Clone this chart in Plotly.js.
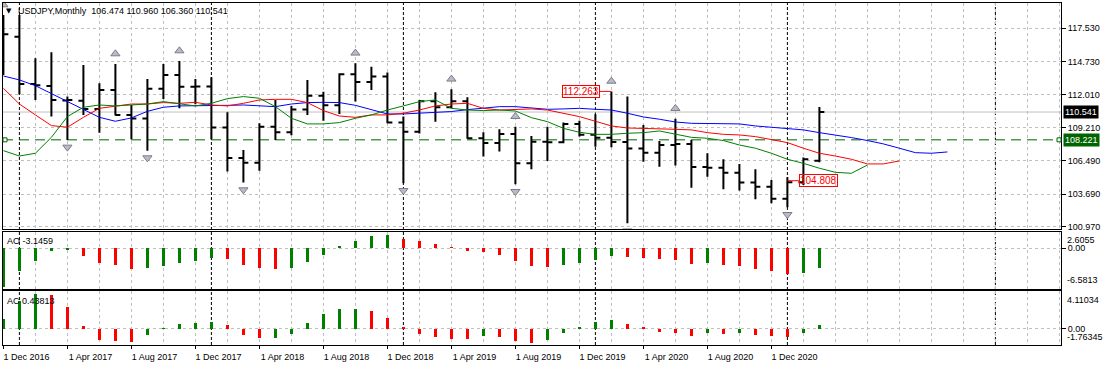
<!DOCTYPE html>
<html><head><meta charset="utf-8">
<script src="https://cdn.plot.ly/plotly-3.0.1.min.js"></script>
<style>html,body{margin:0;padding:0;background:#fff;}#chart{width:1107px;height:366px;}</style>
</head><body><div id="chart"></div>
<script>
const symbol = 'USDJPY';
const timeframe = 'Monthly';
const months = ['Dec 2016','Jan 2017','Feb 2017','Mar 2017','Apr 2017','May 2017','Jun 2017','Jul 2017','Aug 2017','Sep 2017','Oct 2017','Nov 2017',
 'Dec 2017','Jan 2018','Feb 2018','Mar 2018','Apr 2018','May 2018','Jun 2018','Jul 2018','Aug 2018','Sep 2018','Oct 2018','Nov 2018',
 'Dec 2018','Jan 2019','Feb 2019','Mar 2019','Apr 2019','May 2019','Jun 2019','Jul 2019','Aug 2019','Sep 2019','Oct 2019','Nov 2019',
 'Dec 2019','Jan 2020','Feb 2020','Mar 2020','Apr 2020','May 2020','Jun 2020','Jul 2020','Aug 2020','Sep 2020','Oct 2020','Nov 2020',
 'Dec 2020','Jan 2021','Feb 2021','Mar 2021'];
const open  = [114.45,116.83,112.88,112.72,111.50,111.48,110.80,112.38,110.30,110.00,112.49,113.63,112.66,112.67,109.25,106.70,106.30,109.32,108.85,110.76,111.90,111.10,113.70,113.05,113.50,109.66,108.90,111.45,110.95,111.44,108.36,107.95,108.70,106.26,108.07,108.02,109.55,108.65,108.40,108.05,107.50,107.15,107.79,107.88,105.95,105.90,105.48,104.66,104.30,103.30,104.68,106.474];
const high  = [118.64,118.64,115.03,115.53,111.83,114.47,112.94,114.55,111.13,113.30,114.55,114.80,113.30,113.44,110.52,107.38,109.60,111.55,111.05,113.22,112.24,113.77,114.61,114.33,113.83,110.16,111.55,112.19,112.44,111.77,108.85,109.10,109.32,108.54,109.32,109.66,109.82,110.35,112.263,111.83,109.46,108.13,109.99,108.21,107.10,106.60,106.21,105.76,104.87,105.09,106.74,110.960];
const low   = [113.63,112.02,111.55,110.16,108.21,110.30,108.82,110.25,108.27,107.32,111.63,110.85,111.20,108.27,105.57,104.65,105.65,108.21,108.60,110.30,109.82,110.38,111.41,112.38,109.60,104.59,108.75,109.74,110.85,108.32,106.82,107.24,104.51,105.76,106.46,107.93,108.49,107.65,107.60,101.25,106.40,105.98,106.07,104.23,105.15,104.09,104.00,103.26,102.92,102.59,104.45,106.360];
const close = [117.03,112.88,112.77,111.55,111.55,110.80,112.38,110.30,110.00,112.49,113.63,112.66,112.67,109.25,106.70,106.30,109.32,108.85,110.76,111.90,111.10,113.70,113.05,113.50,109.66,108.90,111.45,110.95,111.44,108.36,107.95,108.70,106.26,108.07,108.02,109.55,108.65,108.40,108.05,107.50,107.15,107.79,107.88,105.95,105.90,105.48,104.66,104.30,103.30,104.68,106.60,110.541];
// Alligator lines (jaw blue, teeth red, lips green), extended into the future by their shifts
const jaw   = [113.55,113.22,112.74,112.08,111.47,110.77,110.10,109.77,110.05,110.60,110.94,111.05,111.05,111.05,111.10,111.13,111.05,110.99,111.21,111.33,111.35,111.33,111.10,110.71,110.38,110.38,110.44,110.55,110.58,110.74,110.85,110.99,110.99,110.85,110.77,110.80,110.85,110.77,110.71,110.44,110.13,109.94,109.71,109.60,109.60,109.55,109.55,109.38,109.27,109.18,109.05,108.82,108.63,108.41,108.16,107.88,107.52,107.15,107.10,107.21];
const teeth = [112.52,111.21,110.30,109.41,109.27,110.10,110.85,111.05,111.21,111.21,111.33,111.27,111.35,111.13,111.05,111.27,111.55,111.60,111.60,111.33,110.66,110.21,110.10,110.30,110.30,110.44,110.71,111.05,111.21,111.27,110.85,110.71,110.77,110.80,110.71,110.44,110.16,109.77,109.38,109.21,109.18,109.18,109.10,109.05,108.82,108.68,108.63,108.49,108.21,107.99,107.52,107.10,106.87,106.60,106.21,106.21,106.46];
const lips  = [107.32,106.87,107.10,108.43,110.16,110.94,111.13,111.05,111.13,111.21,111.41,111.21,111.05,111.27,111.66,111.83,111.69,110.99,110.02,109.55,109.55,109.66,110.02,110.30,110.71,111.05,111.41,111.55,110.85,110.71,110.66,110.71,110.63,110.07,109.74,109.18,108.85,108.68,108.68,108.77,108.82,108.96,108.68,108.43,108.35,108.16,107.79,107.52,107.10,106.60,106.26,105.85,105.51,105.43,106.12];
const ao = [-6.2,-3.71,-2.10,-0.38,-0.27,-1.18,-2.31,-2.63,-3.28,-3.12,-2.80,-2.31,-1.99,-1.51,-1.67,-2.63,-3.12,-3.28,-3.12,-2.15,-1.02,0.38,1.13,1.99,2.15,1.51,1.24,0.70,0.16,-0.38,-0.54,-1.02,-1.99,-2.80,-3.01,-2.63,-2.31,-1.83,-1.30,-1.40,-1.51,-1.67,-1.83,-2.47,-2.31,-2.63,-2.80,-3.28,-3.60,-4.09,-3.92,-3.1459];
const ac = [1.11,2.99,3.80,3.62,2.32,0.33,-1.22,-1.29,-1.40,-0.63,0.11,0.55,0.66,0.77,0.44,-0.63,-1.00,-0.96,-0.55,0.66,1.59,2.10,2.16,1.88,1.22,0.15,-0.55,-0.85,-1.11,-1.13,-0.74,-0.85,-1.29,-1.55,-1.18,-0.44,0.22,0.77,1.00,0.55,0.22,-0.30,-0.44,-0.74,-0.44,-0.52,-0.44,-0.63,-0.74,-0.85,-0.41,0.43813];
const upFractals = [0,7,11,22,28,32,38,42];
const downFractals = [4,9,15,25,32,39,49];
const priceTicks = [117.530,114.730,112.010,109.210,106.490,103.690,100.970];
const levelLine = 108.221;
const markHigh = {bar:38, value:112.263};
const markLow = {bar:49, value:104.808};
const yearSeparators = [1,13,25,37,49,62];
const aoScale = [-6.5813, 2.6055];
const acScale = [-1.76345, 4.11034];

// ---- drawing ----
const N = months.length;
const idx = months.map((_, i) => i);
const last = N - 1;
const GREEN = '#008000', RED = '#ff0000';
const colorsFor = v => v.map((x, i) => (i === 0 || x > v[i - 1]) ? GREEN : RED);
const FONT = '"Liberation Sans", Arial, sans-serif';
const XR = [-0.025, 66.1];
const grid = {showgrid:true, gridcolor:'#c0c0c0', griddash:'3px,3px', gridwidth:1};
const frame = {showline:true, mirror:true, linecolor:'#000', linewidth:1, zeroline:false, fixedrange:true};
const labelIdx = idx.filter(i => i % 4 === 0);
const fractalMarker = {size:8, color:'#b8bcc8', line:{color:'#7c7c88', width:1}};

const traces = [
  {type:'scatter', mode:'lines', x:jaw.map((_, i) => i), y:jaw, line:{color:'#0000ff', width:1}, xaxis:'x', yaxis:'y', hoverinfo:'skip'},
  {type:'scatter', mode:'lines', x:teeth.map((_, i) => i), y:teeth, line:{color:'#ff0000', width:1}, xaxis:'x', yaxis:'y', hoverinfo:'skip'},
  {type:'scatter', mode:'lines', x:lips.map((_, i) => i), y:lips, line:{color:'#008000', width:1}, xaxis:'x', yaxis:'y', hoverinfo:'skip'},
  {type:'ohlc', x:idx, open:open, high:high, low:low, close:close, tickwidth:0.31,
   increasing:{line:{color:'#000', width:2}}, decreasing:{line:{color:'#000', width:2}}, xaxis:'x', yaxis:'y'},
  {type:'scatter', mode:'markers', x:upFractals, y:upFractals.map(i => high[i] + 0.85), xaxis:'x', yaxis:'y',
   marker:{symbol:'triangle-up', ...fractalMarker}},
  {type:'scatter', mode:'markers', x:downFractals, y:downFractals.map(i => low[i] - 0.6), xaxis:'x', yaxis:'y',
   marker:{symbol:'triangle-down', ...fractalMarker}},
  {type:'bar', x:idx, y:ao, width:0.14, marker:{color:colorsFor(ao), line:{width:0}}, xaxis:'x2', yaxis:'y2'},
  {type:'bar', x:idx, y:ac, width:0.14, marker:{color:colorsFor(ac), line:{width:0}}, xaxis:'x3', yaxis:'y3'}
];

const tickFont = {family:FONT, size:9, color:'#000'};
const layout = {
  width:1107, height:366, margin:{l:3, r:46, t:3, b:21},
  paper_bgcolor:'#fff', plot_bgcolor:'#fff', showlegend:false, hovermode:false,
  font:tickFont, bargap:0,
  xaxis:{domain:[0,1], range:XR, anchor:'y', tickmode:'linear', tick0:0, dtick:2, showticklabels:false, ticks:'', rangeslider:{visible:false}, ...grid, ...frame},
  yaxis:{domain:[0.3406,1], range:[100.82,119.64], side:'right', anchor:'x', tickmode:'array', tickvals:priceTicks, ticktext:priceTicks.map(v => v.toFixed(3)),
         ticks:'outside', ticklen:4, tickcolor:'#000', tickfont:tickFont, ...grid, ...frame},
  xaxis2:{domain:[0,1], range:XR, anchor:'y2', tickmode:'linear', tick0:0, dtick:2, showticklabels:false, ticks:'', ...grid, ...frame},
  yaxis2:{domain:[0.1637,0.3300], range:aoScale, side:'right', anchor:'x2', tickmode:'array', tickvals:[0], ticktext:['0.00'],
          ticks:'outside', ticklen:4, tickcolor:'#000', tickfont:tickFont, ...grid, ...frame},
  xaxis3:{domain:[0,1], range:XR, anchor:'y3', tickmode:'array', tickvals:labelIdx, ticktext:labelIdx.map(i => '1 ' + months[i]),
          ticks:'outside', ticklen:3, tickcolor:'#000', tickfont:tickFont, ticklabelshift:23,
          minor:{tick0:0, dtick:2, showgrid:true, gridcolor:'#c0c0c0', griddash:'3px,3px', ticks:''}, ...grid, ...frame},
  yaxis3:{domain:[0,0.1580], range:acScale, side:'right', anchor:'x3', tickmode:'array', tickvals:[0], ticktext:['0.00'],
          ticks:'outside', ticklen:4, tickcolor:'#000', tickfont:tickFont, ...grid, ...frame},
  shapes:[
    ...yearSeparators.map(s => ({type:'line', xref:'x', yref:'paper', x0:s, x1:s, y0:0, y1:1, layer:'below', line:{color:'#000', width:1, dash:'3px,2px'}})),
    {type:'line', xref:'paper', yref:'y', x0:0, x1:1, y0:close[last], y1:close[last], layer:'below', line:{color:'#c0c0c0', width:1}},
    {type:'line', xref:'paper', yref:'y', x0:0, x1:1, y0:levelLine, y1:levelLine, layer:'below', line:{color:'#006400', width:1, dash:'10px,6px'}},
    {type:'rect', xref:'paper', yref:'y', xsizemode:'pixel', ysizemode:'pixel', xanchor:0, yanchor:levelLine, x0:0, x1:4, y0:-2, y1:2, line:{color:'#006400', width:1}, fillcolor:'#fff'},
    {type:'rect', xref:'paper', yref:'y', xsizemode:'pixel', ysizemode:'pixel', xanchor:1, yanchor:levelLine, x0:-4, x1:0, y0:-2, y1:2, line:{color:'#006400', width:1}, fillcolor:'#fff'}
  ],
  annotations:[
    {xref:'paper', yref:'paper', x:0, y:1, xanchor:'left', yanchor:'top', xshift:1, yshift:-2, showarrow:false,
     text:'▼', font:{family:'DejaVu Sans', size:7, color:'#000'}},
    {xref:'paper', yref:'paper', x:0, y:1, xanchor:'left', yanchor:'top', xshift:13, yshift:-1, showarrow:false,
     text:symbol + ',' + timeframe + '&nbsp;&nbsp;' + [open[last], high[last], low[last], close[last]].map(v => v.toFixed(3)).join(' '), font:tickFont},
    {xref:'paper', yref:'y2 domain', x:0, y:1, xanchor:'left', yanchor:'top', xshift:2, yshift:-2, showarrow:false,
     text:'AO ' + ao[last].toFixed(4), font:tickFont},
    {xref:'paper', yref:'y3 domain', x:0, y:1, xanchor:'left', yanchor:'top', xshift:2, yshift:-3, showarrow:false,
     text:'AC ' + ac[last].toFixed(5), font:tickFont},
    {xref:'paper', yref:'y2', x:1, y:aoScale[1], xanchor:'left', yanchor:'top', xshift:4, yshift:-1, showarrow:false, text:aoScale[1].toFixed(4), font:tickFont},
    {xref:'paper', yref:'y2', x:1, y:aoScale[0], xanchor:'left', yanchor:'bottom', xshift:4, yshift:2, showarrow:false, text:aoScale[0].toFixed(4), font:tickFont},
    {xref:'paper', yref:'y3', x:1, y:acScale[1], xanchor:'left', yanchor:'top', xshift:4, yshift:-2, showarrow:false, text:acScale[1].toFixed(5), font:tickFont},
    {xref:'paper', yref:'y3', x:1, y:acScale[0], xanchor:'left', yanchor:'bottom', xshift:4, yshift:1, showarrow:false, text:acScale[0].toFixed(5), font:tickFont},
    {xref:'paper', yref:'y', x:1, y:close[last], xanchor:'left', xshift:2, showarrow:false, text:close[last].toFixed(3),
     bgcolor:'#000', borderpad:1, font:{family:FONT, size:9, color:'#fff'}},
    {xref:'paper', yref:'y', x:1, y:levelLine, xanchor:'left', xshift:2, showarrow:false, text:levelLine.toFixed(3),
     bgcolor:'#006400', borderpad:1, font:{family:FONT, size:9, color:'#fff'}},
    {xref:'x', yref:'y', x:markHigh.bar, y:markHigh.value, ax:-30, ay:0, showarrow:true, arrowhead:0, arrowwidth:1, arrowcolor:RED,
     text:markHigh.value.toFixed(3), bordercolor:RED, borderwidth:1, borderpad:0, font:{family:FONT, size:10, color:RED}},
    {xref:'x', yref:'y', x:markLow.bar, y:markLow.value, ax:31, ay:0, showarrow:true, arrowhead:0, arrowwidth:1, arrowcolor:RED,
     text:markLow.value.toFixed(3), bordercolor:RED, borderwidth:1, borderpad:0, font:{family:FONT, size:10, color:RED}}
  ]
};
Plotly.newPlot('chart', traces, layout, {staticPlot:true, displayModeBar:false});
</script></body></html>
